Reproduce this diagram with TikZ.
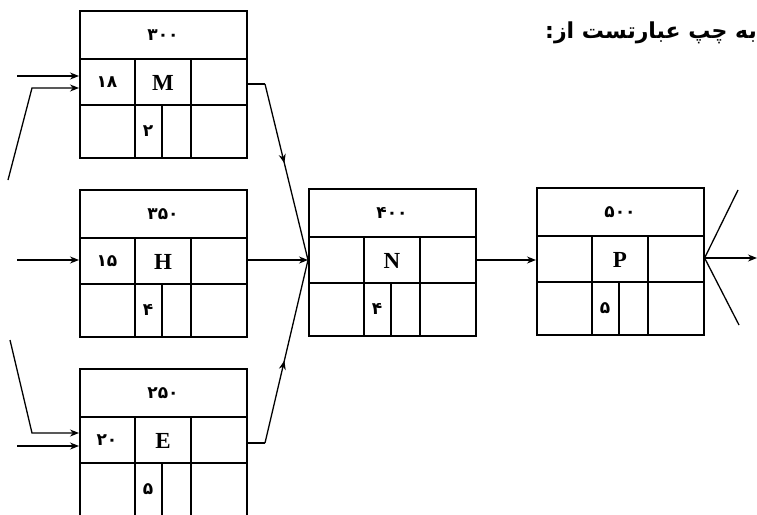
\documentclass[tikz,border=0pt]{standalone}
\usepackage{fontspec}
\usetikzlibrary{arrows.meta,calc,decorations.markings}
\TeXXeTstate=1
\newfontfamily\arabicfont[Script=Arabic]{DejaVu Sans}
\setmainfont{Liberation Serif}
\tikzset{
  cell/.style={draw, line width=1.6pt, rectangle, inner sep=0pt},
  gridline/.style={line width=1.6pt},
  num/.style={font=\arabicfont\bfseries\fontsize{17}{17}\selectfont, inner sep=0pt},
  letter/.style={font=\bfseries\fontsize{23}{23}\selectfont, inner sep=0pt},
  link/.style={line width=1.3pt},
  arr/.style={link, -{Stealth[length=9pt,width=7pt]}},
  midarr/.style={link, postaction={decorate}, decoration={markings, mark=at position #1 with {\arrow{Stealth[length=9pt,width=7pt]}}}},
  title/.style={font=\arabicfont\bfseries\fontsize{22}{22}\selectfont, inner sep=0pt},
}
\newcommand\cpmnode[7]{%
  \node[cell, minimum width=167pt, minimum height=147pt, anchor=north west] (#1) at (#2,#3) {};
  \draw[gridline] ($(#1.north west)+(0,49)$) -- ++(167,0);
  \draw[gridline] ($(#1.north west)+(0,95)$) -- ++(167,0);
  \draw[gridline] ($(#1.north west)+(56,49)$) -- ++(0,98);
  \draw[gridline] ($(#1.north west)+(112,49)$) -- ++(0,98);
  \draw[gridline] ($(#1.north west)+(83,95)$) -- ++(0,52);
  \node[num] (#1-t) at ($(#1.north west)+(84,25)$) {#4};
  \node[num] (#1-l) at ($(#1.north west)+(28,72)$) {#5};
  \node[letter] (#1-c) at ($(#1.north west)+(84,73)$) {#6};
  \node[num] (#1-b) at ($(#1.north west)+(69,121)$) {#7};
}
\begin{document}
\begin{tikzpicture}[x=1pt,y=-1pt]
\useasboundingbox (0,0) rectangle (757,514);
\fill[white] (0,0) rectangle (757,514);

\cpmnode{M}{79}{10}{۳۰۰}{۱۸}{M}{۲}
\cpmnode{H}{79}{189}{۳۵۰}{۱۵}{H}{۴}
\cpmnode{E}{79}{368}{۲۵۰}{۲۰}{E}{۵}
\cpmnode{N}{308}{188}{۴۰۰}{}{N}{۴}
\cpmnode{P}{536}{187}{۵۰۰}{}{P}{۵}

\node[title, anchor=east] (ttl) at (757,33) {\beginR به چپ عبارتست از:\endR};

% free ends
\coordinate (a1) at (17,76);
\coordinate (a2s) at (8,180);
\coordinate (a2k) at (32,88);
\coordinate (h1) at (17,260);
\coordinate (e1s) at (10,340);
\coordinate (e1k) at (32,433);
\coordinate (e2) at (17,446);
\coordinate (mk) at (265,84);
\coordinate (ek) at (265,443);
\coordinate (nin) at (308,260);
\coordinate (pout) at (702,258);
\coordinate (pu) at (738,190);
\coordinate (pd) at (739,325);
\coordinate (pr) at (757,258);

% inputs
\draw[arr] (a1) -- (a1 -| M.west);
\draw[arr] (a2s) -- (a2k) -- (a2k -| M.west);
\draw[arr] (h1) -- (h1 -| H.west);
\draw[arr] (e1s) -- (e1k) -- (e1k -| E.west);
\draw[arr] (e2) -- (e2 -| E.west);

% to N
\draw[link] (mk -| M.east) -- (mk);
\draw[midarr=0.45] (mk) -- (nin -| N.west);
\draw[arr] (nin -| H.east) -- (nin -| N.west);
\draw[link] (ek -| E.east) -- (ek);
\draw[midarr=0.45] (ek) -- (nin -| N.west);

% N to P
\draw[arr] (nin -| N.east) -- (nin -| P.west);

% P out
\draw[link] (pout -| P.east) -- (pu);
\draw[link] (pout -| P.east) -- (pd);
\draw[arr] (pout -| P.east) -- (pr);
\end{tikzpicture}
\end{document}
